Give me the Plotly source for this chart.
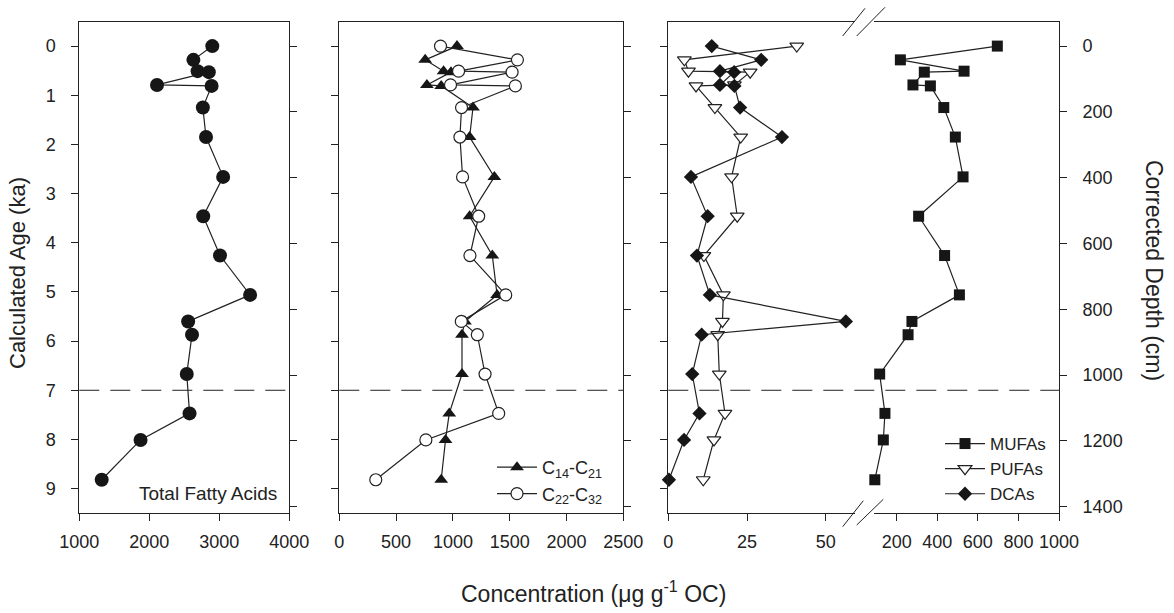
import plotly.graph_objects as go

W, H = 1174, 613

# ---------------- data ----------------
age = [0, 0.28, 0.51, 0.53, 0.79, 0.81, 1.25, 1.85, 2.66, 3.46, 4.26, 5.06,
       5.60, 5.87, 6.67, 7.47, 8.01, 8.82]

tfa = [2900, 2630, 2690, 2850, 2110, 2890, 2765, 2810, 3055, 2770, 3010, 3440,
       2555, 2610, 2535, 2575, 1875, 1320]

c14_c21 = [1036, 756, 918, 983, 771, 897, 1177, 1147, 1365, 1147, 1347, 1389,
           1106, 1080, 1080, 968, 935, 897]
c22_c32 = [891, 1568, 1050, 1521, 979, 1550, 1076, 1062, 1085, 1227, 1150, 1465,
           1074, 1215, 1283, 1403, 762, 321]

mufa = [696, 218, 532, 336, 280, 366, 432, 489, 527, 308, 436, 509,
        275, 256, 116, 142, 134, 92]
pufa = [40.8, 5.1, 6.4, 26.0, 21.0, 8.8, 14.8, 23.0, 20.1, 21.9, 11.3, 17.5,
        17.2, 15.7, 16.2, 18.0, 14.5, 11.1]
dca = [13.8, 29.5, 16.4, 20.9, 16.4, 21.0, 22.8, 36.1, 7.2, 12.5, 9.1, 13.2,
       56.4, 10.6, 7.6, 9.9, 5.0, 0.2]

age_ticks = [0, 1, 2, 3, 4, 5, 6, 7, 8, 9]
depth_ticks = [0, 200, 400, 600, 800, 1000, 1200, 1400]
tfa_ticks = [1000, 2000, 3000, 4000]
chain_ticks = [0, 500, 1000, 1500, 2000, 2500]
low_ticks = [0, 25, 50]
high_ticks = [200, 400, 600, 800, 1000]
boundary_age = 7

# ---------------- helpers ----------------
def px(p):
    return p / W

def py(p):
    return 1 - p / H

INK = "#222222"
FONT = "Liberation Sans, Arial, sans-serif"
TOP, BOT = 22, 512.7
YDOM = [py(BOT), py(TOP)]

fig = go.Figure()

line_style = dict(color=INK, width=1.2)

fig.add_trace(go.Scatter(
    x=tfa, y=age, xaxis="x", yaxis="y", mode="lines+markers",
    line=line_style, marker=dict(symbol="circle", size=14, color="#161616"),
    showlegend=False, cliponaxis=False, name="Total Fatty Acids"))

fig.add_trace(go.Scatter(
    x=c14_c21, y=age, xaxis="x2", yaxis="y2", mode="lines+markers",
    line=line_style, marker=dict(symbol="triangle-up", size=12, color="#161616"),
    name="C<sub>14</sub>-C<sub>21</sub>", legend="legend", legendgroup="a",
    cliponaxis=False))
fig.add_trace(go.Scatter(
    x=c22_c32, y=age, xaxis="x2", yaxis="y2", mode="lines+markers",
    line=line_style,
    marker=dict(symbol="circle", size=12, color="white", line=dict(color=INK, width=1.2)),
    name="C<sub>22</sub>-C<sub>32</sub>", legend="legend", legendgroup="b",
    cliponaxis=False))

fig.add_trace(go.Scatter(
    x=mufa, y=age, xaxis="x4", yaxis="y3", mode="lines+markers",
    line=line_style, marker=dict(symbol="square", size=11, color="#161616"),
    name="MUFAs", legend="legend2", cliponaxis=False))
fig.add_trace(go.Scatter(
    x=pufa, y=age, xaxis="x3", yaxis="y3", mode="lines+markers",
    line=line_style,
    marker=dict(symbol="triangle-down", size=12, color="white", line=dict(color=INK, width=1.2)),
    name="PUFAs", legend="legend2", cliponaxis=False))
fig.add_trace(go.Scatter(
    x=dca, y=age, xaxis="x3", yaxis="y3", mode="lines+markers",
    line=line_style, marker=dict(symbol="diamond", size=11, color="#161616"),
    name="DCAs", legend="legend2", cliponaxis=False))

# dummy traces so the depth axes get drawn
for xa, ya in (("x", "y4"), ("x2", "y5"), ("x4", "y6")):
    fig.add_trace(go.Scatter(x=[None], y=[None], xaxis=xa, yaxis=ya,
                             showlegend=False, hoverinfo="skip"))

tickfont = dict(family=FONT, size=18, color=INK)
common = dict(showgrid=False, zeroline=False, showline=True, linecolor=INK,
              linewidth=1, ticks="outside", ticklen=7, tickcolor=INK, tickwidth=1,
              tickfont=tickfont, automargin=False)

def xax(dom, rng, tv, anchor):
    return dict(domain=[px(dom[0]), px(dom[1])], range=rng, tickvals=tv,
                anchor=anchor, mirror=True, ticklabelstandoff=6, **common)

yage = dict(domain=YDOM, range=[9.49, -0.49], tickvals=age_ticks, **common)
ydepth = dict(domain=YDOM, range=[1418, -73], tickvals=depth_ticks, side="right", **common)

fig.update_layout(
    template="none",
    width=W, height=H, margin=dict(l=0, r=0, t=0, b=0, autoexpand=False),
    paper_bgcolor="white", plot_bgcolor="white",
    font=dict(family=FONT, color=INK),
    xaxis=xax((79.3, 289.3), [1000, 4000], tfa_ticks, "y"),
    xaxis2=xax((339.3, 623.3), [0, 2500], chain_ticks, "y2"),
    xaxis3=xax((668.3, 855), [0, 59.3], low_ticks, "y3"),
    xaxis4=xax((874, 1059), [88, 1000], high_ticks, "y3"),
    yaxis=dict(anchor="x", ticklabelstandoff=12, **yage),
    yaxis2=dict(anchor="x2", showticklabels=False, **yage),
    yaxis3=dict(anchor="x3", showticklabels=False, **yage),
    yaxis4=dict(anchor="x", overlaying="y", showticklabels=False, **ydepth),
    yaxis5=dict(anchor="x2", overlaying="y2", showticklabels=False, **ydepth),
    yaxis6=dict(anchor="x4", overlaying="y3", ticklabelstandoff=12, **ydepth),
    legend=dict(x=px(492), y=py(449), xanchor="left", yanchor="top",
                font=dict(family=FONT, size=18, color=INK), bgcolor="rgba(0,0,0,0)",
                tracegroupgap=0, itemwidth=40),
    legend2=dict(x=px(940), y=py(426), xanchor="left", yanchor="top",
                 font=dict(family=FONT, size=17, color=INK), bgcolor="rgba(0,0,0,0)",
                 itemwidth=40),
    showlegend=True,
)

# titles
ann = [
    dict(text="Calculated Age (ka)", x=px(18), y=py(273), textangle=-90,
         font=dict(size=22)),
    dict(text="Corrected Depth (cm)", x=px(1154), y=py(270), textangle=90,
         font=dict(size=23)),
    dict(text="Concentration (\u03bcg g<sup>-1</sup> OC)", x=px(593), y=py(592),
         font=dict(size=23)),
    dict(text="Total Fatty Acids", x=px(279), y=py(493), xanchor="right",
         font=dict(size=19)),
]
for a in ann:
    a.setdefault("xanchor", "center")
    a.update(xref="paper", yref="paper", yanchor="middle", showarrow=False)
    a["font"] = dict(family=FONT, color=INK, **a["font"])
fig.update_layout(annotations=ann)

# boundary dashed line and axis-break marks
dash = dict(color=INK, width=1, dash="20px,11px")
shapes = []
for x0, x1, yr in ((79.3, 289.3, "y"), (339.3, 623.3, "y2"), (668.3, 1059, "y3")):
    shapes.append(dict(type="line", xref="paper", yref=yr, x0=px(x0), x1=px(x1),
                       y0=boundary_age, y1=boundary_age, line=dash))
for (a, b, c, d) in ((842.7, 36, 865, 8.3), (856.7, 36, 885, 7.3),
                     (842.7, 526.7, 863.3, 500.7), (856.7, 525, 883.3, 499.3)):
    shapes.append(dict(type="line", xref="paper", yref="paper", x0=px(a), y0=py(b),
                       x1=px(c), y1=py(d), line=dict(color=INK, width=1)))
fig.update_layout(shapes=shapes)

fig.write_html("out.html")
